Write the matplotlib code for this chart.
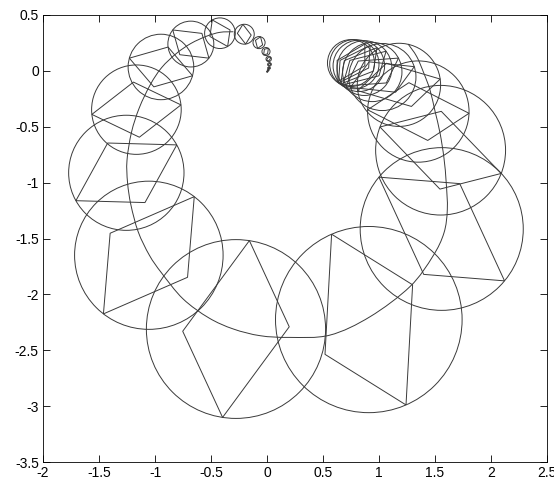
import numpy as np
import matplotlib
matplotlib.use('Agg')
import matplotlib.pyplot as plt
from matplotlib.patches import Circle, Polygon, PathPatch
from matplotlib.path import Path

# circles along the orbit, from the source cluster to the sink at the origin
cx = [0.75, 0.78, 0.82, 0.87, 0.94, 1.03, 1.178, 1.351, 1.55, 1.56, 0.909,
      -0.277, -1.055, -1.256, -1.166, -0.947, -0.68, -0.42, -0.203, -0.071,
      -0.009, 0.015, 0.022, 0.018, 0.01, 0.002]
cy = [0.07, 0.06, 0.045, 0.025, -0.01, -0.055, -0.125, -0.364, -0.71, -1.415,
      -2.2255, -2.31, -1.65, -0.912, -0.347, 0.035, 0.24, 0.337, 0.328, 0.253,
      0.173, 0.107, 0.058, 0.025, 0.005, -0.007]
rad = [0.21, 0.22, 0.23, 0.245, 0.265, 0.30, 0.372, 0.453, 0.58, 0.728, 0.833,
       0.80, 0.663, 0.515, 0.40, 0.293, 0.205, 0.137, 0.089, 0.054, 0.036,
       0.024, 0.016, 0.011, 0.007, 0.005]

# quadrilateral in each circle: direction of the long diagonal (deg),
# turn to the short diagonal (deg) and short/long diagonal ratio
tilt = [234, 230, 225, 218, 208, 198, 188, 178, 159, 140.4, 113.5, 81.4, 52.3,
        29, 6.1, -15.6, -38, -60, -82, -104, -126, -148, -170, -192, -214, -236]
skew = [-65, -65, -65, -66, -66, -67, -68, -70, -70, -72, -75, -79, -82, -87,
        -90, -94, -98, -102, -105, -108, -110, -112, -114, -116, -118, -120]
narrow = [0.6, 0.6, 0.6, 0.6, 0.6, 0.6, 0.6, 0.6, 0.6, 0.6, 0.6, 0.595, 0.6,
          0.61, 0.62, 0.645, 0.67, 0.69, 0.7, 0.7, 0.7, 0.7, 0.7, 0.7, 0.7, 0.7]

# one orbit of the flow
orbit_x = [-0.30, -0.42, -0.54, -0.68, -0.81, -0.94, -1.04, -1.14, -1.21,
           -1.25, -1.245, -1.215, -1.15, -1.05, -0.94, -0.75, -0.52, -0.30,
           -0.06, 0.20, 0.56, 0.92, 1.277, 1.48, 1.58, 1.61, 1.60, 1.58,
           1.545, 1.50, 1.455, 1.40, 1.337, 1.26]
orbit_y = [0.35, 0.345, 0.31, 0.245, 0.155, 0.03, -0.12, -0.33, -0.55, -0.80,
           -1.0, -1.2, -1.44, -1.65, -1.81, -2.04, -2.21, -2.31, -2.37, -2.385,
           -2.365, -2.2, -1.93, -1.66, -1.45, -1.24, -1.0, -0.78, -0.557,
           -0.36, -0.17, -0.02, 0.128, 0.24]

ink = '#3a3a3a'
lw = 0.7


def smooth_path(xs, ys):
    # cubic Bezier pieces through every point (Catmull-Rom tangents)
    p = np.column_stack([xs, ys])
    ext = np.vstack([p[0], p, p[-1]])
    verts = [p[0]]
    codes = [Path.MOVETO]
    for i in range(len(p) - 1):
        c1 = ext[i + 1] + (ext[i + 2] - ext[i]) / 6
        c2 = ext[i + 2] - (ext[i + 3] - ext[i + 1]) / 6
        verts += [c1, c2, ext[i + 2]]
        codes += [Path.CURVE4] * 3
    return Path(verts, codes)


plt.rcParams['font.family'] = ['Liberation Sans', 'DejaVu Sans']
plt.rcParams['axes.unicode_minus'] = False

fig = plt.figure(figsize=(5.54, 4.82), dpi=100)
ax = fig.add_axes([43 / 554, 20 / 482, 504 / 554, 447 / 482])

for x0, y0, r, t, s, q in zip(cx, cy, rad, tilt, skew, narrow):
    ax.add_patch(Circle((x0, y0), r, fill=False, ec=ink, lw=lw))
    a = np.deg2rad([t, t + s, t + 180, t + s + 180])
    d = r * np.array([1, q, 1, q])
    pts = np.column_stack([x0 + d * np.cos(a), y0 + d * np.sin(a)])
    ax.add_patch(Polygon(pts, closed=True, fill=False, ec=ink, lw=lw))

ax.add_patch(PathPatch(smooth_path(orbit_x, orbit_y), fill=False, ec=ink, lw=lw))

ax.set_xlim(-2, 2.5)
ax.set_ylim(-3.5, 0.5)
ax.set_xticks(np.arange(-2, 2.51, 0.5))
ax.set_yticks(np.arange(-3.5, 0.51, 0.5))
ax.set_xticklabels(['-2', '-1.5', '-1', '-0.5', '0', '0.5', '1', '1.5', '2', '2.5'])
ax.set_yticklabels(['-3.5', '-3', '-2.5', '-2', '-1.5', '-1', '-0.5', '0', '0.5'])
ax.tick_params(direction='in', top=True, right=True, length=5, width=0.6,
               labelsize=10, pad=3)
for sp in ax.spines.values():
    sp.set_linewidth(0.6)

fig.savefig('out.png', dpi=100)
